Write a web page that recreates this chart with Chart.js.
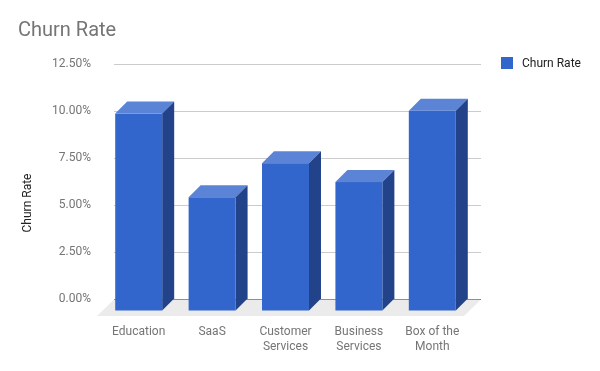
<!DOCTYPE html>
<html>
<head>
<meta charset="utf-8">
<script src="https://cdn.jsdelivr.net/npm/chart.js@4"></script>
<style>
  html, body { margin: 0; padding: 0; background: #fff; }
</style>
</head>
<body>
<canvas id="churnChart" width="600" height="371"></canvas>
<script>
// data
const categories = ["Education", "SaaS", ["Customer", "Services"], ["Business", "Services"], ["Box of the", "Month"]];
const churnRates = [10.5, 6.05, 7.86, 6.86, 10.65];
const seriesName = "Churn Rate";
const yMax = 12.5;
const yStep = 2.5;

const DEPTH = 12;   // bar depth in px
const FLOOR = 17;   // floor depth in px

// fake 3d bars, floor, y title and legend
const bar3d = {
  id: "bar3d",
  beforeDatasetsDraw(chart) {
    const { ctx, chartArea: a } = chart;
    ctx.save();
    ctx.fillStyle = "#ebebeb";
    ctx.beginPath();
    ctx.moveTo(a.left, a.bottom + 0.5);
    ctx.lineTo(a.right, a.bottom + 0.5);
    ctx.lineTo(a.right - FLOOR, a.bottom + FLOOR);
    ctx.lineTo(a.left - FLOOR, a.bottom + FLOOR);
    ctx.closePath();
    ctx.fill();
    ctx.restore();
  },
  beforeDatasetDraw() {
    return false;
  },
  afterDatasetsDraw(chart) {
    const ctx = chart.ctx;
    const meta = chart.getDatasetMeta(0);
    ctx.save();
    meta.data.forEach(bar => {
      const L = bar.x - bar.width / 2;
      const R = bar.x + bar.width / 2;
      const T = bar.y;
      const B = bar.base;
      // top
      ctx.fillStyle = "#5b84d6";
      ctx.beginPath();
      ctx.moveTo(L - DEPTH, T + DEPTH);
      ctx.lineTo(R - DEPTH, T + DEPTH);
      ctx.lineTo(R, T);
      ctx.lineTo(L, T);
      ctx.closePath();
      ctx.fill();
      // side
      ctx.fillStyle = "#22428a";
      ctx.beginPath();
      ctx.moveTo(R - DEPTH, T + DEPTH);
      ctx.lineTo(R, T);
      ctx.lineTo(R, B);
      ctx.lineTo(R - DEPTH, B + DEPTH);
      ctx.closePath();
      ctx.fill();
      // front
      ctx.fillStyle = "#3366cc";
      ctx.fillRect(L - DEPTH, T + DEPTH, R - L, B - T);
    });
    ctx.restore();
  },
  afterDraw(chart) {
    const ctx = chart.ctx;
    ctx.save();
    // y axis title
    ctx.fillStyle = "#222";
    ctx.font = "12px Roboto";
    ctx.textAlign = "center";
    ctx.textBaseline = "middle";
    ctx.translate(28, 203);
    ctx.rotate(-Math.PI / 2);
    ctx.fillText("Churn Rate", 0, 0);
    ctx.restore();

    // legend
    ctx.save();
    ctx.fillStyle = "#3366cc";
    ctx.fillRect(501, 57, 12, 12);
    ctx.fillStyle = "#222";
    ctx.font = "12px Roboto";
    ctx.textBaseline = "middle";
    ctx.fillText(seriesName, 522, 63.5);
    ctx.restore();
  }
};

const ctx = document.getElementById("churnChart").getContext("2d");
new Chart(ctx, {
  type: "bar",
  data: {
    labels: categories,
    datasets: [{
      label: seriesName,
      data: churnRates,
      backgroundColor: "#3366cc",
      barPercentage: 0.8,
      categoryPercentage: 0.8
    }]
  },
  options: {
    responsive: false,
    animation: false,
    layout: { padding: { left: 18, right: 119, top: 0, bottom: 0 } },
    plugins: {
      legend: { display: false },
      tooltip: { enabled: false },
      title: {
        display: true,
        text: "Churn Rate",
        align: "start",
        color: "#757575",
        font: { family: "Roboto", size: 20, weight: "normal" },
        padding: { top: 19, bottom: 21 }
      }
    },
    scales: {
      x: {
        afterFit(scale) { scale.height = 72; },
        grid: { display: false, drawTicks: false },
        border: { display: false },
        ticks: {
          color: "#757575",
          font: { family: "Roboto", size: 12 },
          padding: 26,
          labelOffset: -12,
          maxRotation: 0,
          autoSkip: false
        }
      },
      y: {
        min: 0,
        max: yMax,
        afterFit(scale) { scale.width = 96; },
        border: { display: false },
        grid: {
          drawTicks: false,
          color: c => c.tick.value === 0 ? "#333" : "#ccc"
        },
        ticks: {
          stepSize: yStep,
          color: "#757575",
          font: { family: "Roboto", size: 12 },
          padding: 23,
          callback: v => v.toFixed(2) + "%"
        }
      }
    }
  },
  plugins: [bar3d]
});
</script>
</body>
</html>
